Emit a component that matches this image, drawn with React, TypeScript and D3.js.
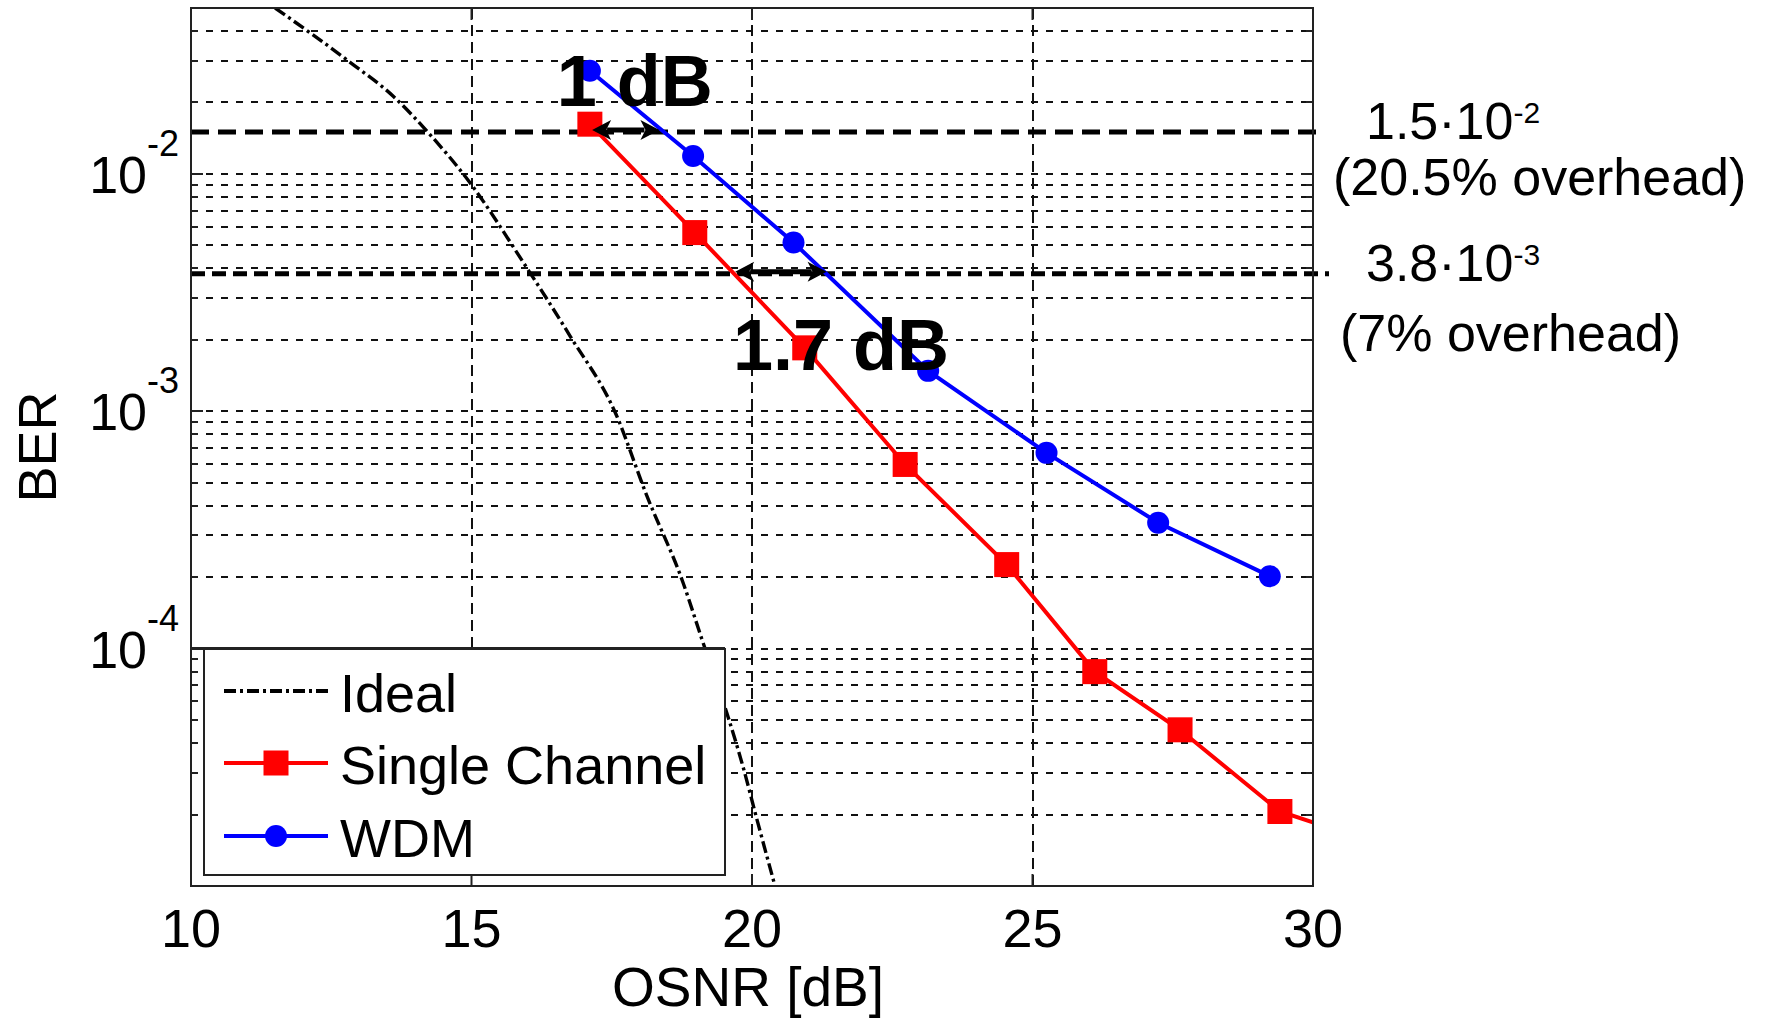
import React, { useMemo } from "react";
import * as d3 from "d3";

const WIDTH = 1769;
const HEIGHT = 1019;
const PLOT = { left: 191, right: 1313, top: 8, bottom: 886 };
const FONT = "'Liberation Sans', Arial, sans-serif";

// axes
const OSNR_DOMAIN = [10, 30];
const BER_DOMAIN = [1e-5, 5e-2];
const OSNR_TICKS = [10, 15, 20, 25, 30];
const BER_DECADES = [-2, -3, -4];

// theory curve
const IDEAL_OSNR = [11.5, 12.83, 13.6, 14.21, 14.97, 15.92, 16.76, 17.56, 18.13, 18.77, 19.11, 19.55, 19.84, 20.09, 20.41];
const IDEAL_BER = [5.0e-2, 2.96e-2, 2.13e-2, 1.51e-2, 9.2e-3, 4.25e-3, 2.07e-3, 9.9e-4, 4.38e-4, 1.9e-4, 1.09e-4, 5.37e-5, 3.18e-5, 1.9e-5, 1.0e-5];

// measurements
const SINGLE_OSNR = [17.11, 18.98, 20.94, 22.73, 24.54, 26.11, 27.63, 29.41, 31.0];
const SINGLE_BER = [1.62e-2, 5.66e-3, 1.85e-3, 5.97e-4, 2.26e-4, 8.0e-5, 4.55e-5, 2.06e-5, 1.55e-5];
const WDM_OSNR = [17.11, 18.95, 20.74, 23.14, 25.25, 27.24, 29.23];
const WDM_BER = [2.72e-2, 1.19e-2, 5.14e-3, 1.48e-3, 6.68e-4, 3.39e-4, 2.02e-4];

// FEC thresholds and penalty arrows
const THRESHOLD_BER = [1.5e-2, 3.8e-3];
const THRESHOLD_MANTISSA = ["1.5", "3.8"];
const THRESHOLD_EXPONENT = ["-2", "-3"];
const THRESHOLD_OVERHEAD = ["(20.5% overhead)", "(7% overhead)"];
const GAP_FROM = [17.15, 19.7];
const GAP_TO = [18.35, 21.33];
const GAP_LABELS = ["1 dB", "1.7 dB"];
const GAP_LABEL_OSNR = [16.52, 19.66];
const GAP_LABEL_BER = [1.93e-2, 1.49e-3];

const LEGEND_LABELS = ["Ideal", "Single Channel", "WDM"];

function DoubleArrow({ x1, x2, y }: { x1: number; x2: number; y: number }) {
  const hl = 19;
  const hw = 10;
  return (
    <g fill="#000" stroke="none">
      <line x1={x1 + hl - 4} x2={x2 - hl + 4} y1={y} y2={y} stroke="#000" strokeWidth={5} />
      <path d={`M${x1},${y} L${x1 + hl},${y - hw} L${x1 + hl - 5},${y} L${x1 + hl},${y + hw} Z`} />
      <path d={`M${x2},${y} L${x2 - hl},${y - hw} L${x2 - hl + 5},${y} L${x2 - hl},${y + hw} Z`} />
    </g>
  );
}

export default function App() {
  const x = useMemo(() => d3.scaleLinear().domain(OSNR_DOMAIN).range([PLOT.left, PLOT.right]), []);
  const y = useMemo(() => d3.scaleLog().domain(BER_DOMAIN).range([PLOT.bottom, PLOT.top]), []);

  const gridValues = useMemo(() => {
    const out: { v: number; major: boolean }[] = [];
    for (let d = -5; d <= -2; d++) {
      for (let k = 1; k <= 9; k++) {
        const v = k * Math.pow(10, d);
        if (v > BER_DOMAIN[0] * 1.001 && v < BER_DOMAIN[1] * 0.999) out.push({ v, major: k === 1 });
      }
    }
    return out;
  }, []);

  const smooth = d3
    .line<[number, number]>()
    .x((d) => x(d[0]))
    .y((d) => y(d[1]))
    .curve(d3.curveMonotoneX);
  const linear = d3
    .line<[number, number]>()
    .x((d) => x(d[0]))
    .y((d) => y(d[1]));
  const idealPath = smooth(IDEAL_OSNR.map((o, i) => [o, IDEAL_BER[i]]));
  const singlePath = linear(SINGLE_OSNR.map((o, i) => [o, SINGLE_BER[i]]));
  const wdmPath = linear(WDM_OSNR.map((o, i) => [o, WDM_BER[i]]));

  const gy = (v: number) => Math.round(y(v));
  const legendRows = [691, 763, 836];
  const legend = { x0: 204, x1: 725, y0: 649, y1: 875 };

  return (
    <svg width={WIDTH} height={HEIGHT} style={{ position: "absolute", left: 0, top: 0, background: "#fff" }} fontFamily={FONT}>
      <defs>
        <clipPath id="plotClip">
          <rect x={PLOT.left} y={PLOT.top} width={PLOT.right - PLOT.left} height={PLOT.bottom - PLOT.top} />
        </clipPath>
      </defs>
      <rect x={0} y={0} width={WIDTH} height={HEIGHT} fill="#fff" />

      {/* grid */}
      <g stroke="#111" strokeWidth={2} fill="none">
        {gridValues.map((m) => (
          <line key={m.v} x1={PLOT.left} x2={PLOT.right} y1={gy(m.v)} y2={gy(m.v)} strokeDasharray="7 8" />
        ))}
        {OSNR_TICKS.slice(1, -1).map((t) => (
          <line key={t} x1={Math.round(x(t))} x2={Math.round(x(t))} y1={PLOT.top} y2={PLOT.bottom} strokeDasharray="11 6" />
        ))}
      </g>

      {/* thresholds */}
      {THRESHOLD_BER.map((b, i) => (
        <line
          key={b}
          x1={PLOT.left}
          x2={PLOT.right + 8 + i * 8}
          y1={y(b)}
          y2={y(b)}
          stroke="#000"
          strokeWidth={5}
          strokeDasharray={i === 0 ? "18 9" : "14 7"}
        />
      ))}

      {/* curves */}
      <g clipPath="url(#plotClip)">
        <path d={idealPath || ""} fill="none" stroke="#000" strokeWidth={3.4} strokeDasharray="12 4 3 4" />
        <path d={singlePath || ""} fill="none" stroke="#ff0000" strokeWidth={4} />
        <path d={wdmPath || ""} fill="none" stroke="#0000ff" strokeWidth={4} />
        {SINGLE_OSNR.map((o, i) => (
          <rect key={o} x={x(o) - 12.5} y={y(SINGLE_BER[i]) - 12.5} width={25} height={25} fill="#ff0000" />
        ))}
        {WDM_OSNR.map((o, i) => (
          <circle key={o} cx={x(o)} cy={y(WDM_BER[i])} r={11} fill="#0000ff" />
        ))}
      </g>

      {/* penalty arrows */}
      {GAP_FROM.map((g, i) => (
        <DoubleArrow key={g} x1={x(g)} x2={x(GAP_TO[i])} y={y(THRESHOLD_BER[i]) - 2} />
      ))}
      {GAP_LABELS.map((t, i) => (
        <text key={t} x={x(GAP_LABEL_OSNR[i])} y={y(GAP_LABEL_BER[i])} fontSize={72} fontWeight="bold" fill="#000">
          {t}
        </text>
      ))}

      {/* legend */}
      <rect x={PLOT.left} y={legend.y0 - 1} width={legend.x1 - PLOT.left} height={PLOT.bottom - legend.y0} fill="#fff" />
      <line x1={PLOT.left} x2={legend.x1} y1={legend.y0 - 1} y2={legend.y0 - 1} stroke="#222" strokeWidth={2} />
      <rect x={legend.x0} y={legend.y0} width={legend.x1 - legend.x0} height={legend.y1 - legend.y0} fill="#fff" stroke="#222" strokeWidth={2} />
      <line x1={224} x2={328} y1={legendRows[0]} y2={legendRows[0]} stroke="#000" strokeWidth={4} strokeDasharray="12 4 3 4" />
      <line x1={224} x2={328} y1={legendRows[1]} y2={legendRows[1]} stroke="#ff0000" strokeWidth={4} />
      <rect x={276 - 12.5} y={legendRows[1] - 12.5} width={25} height={25} fill="#ff0000" />
      <line x1={224} x2={328} y1={legendRows[2]} y2={legendRows[2]} stroke="#0000ff" strokeWidth={4} />
      <circle cx={276} cy={legendRows[2]} r={11} fill="#0000ff" />
      {LEGEND_LABELS.map((l, i) => (
        <text key={l} x={340} y={legendRows[i] + 21} fontSize={54} fill="#000">
          {l}
        </text>
      ))}

      {/* frame and ticks */}
      <rect x={PLOT.left} y={PLOT.top} width={PLOT.right - PLOT.left} height={PLOT.bottom - PLOT.top} fill="none" stroke="#222" strokeWidth={2} />
      <g stroke="#222" strokeWidth={2}>
        {gridValues.map((m) => {
          const len = m.major ? 12 : 7;
          return (
            <g key={m.v}>
              <line x1={PLOT.left} x2={PLOT.left + len} y1={gy(m.v)} y2={gy(m.v)} />
              <line x1={PLOT.right} x2={PLOT.right - len} y1={gy(m.v)} y2={gy(m.v)} />
            </g>
          );
        })}
        {OSNR_TICKS.slice(1, -1).map((t) => (
          <g key={t}>
            <line x1={x(t)} x2={x(t)} y1={PLOT.bottom} y2={PLOT.bottom - 12} />
            <line x1={x(t)} x2={x(t)} y1={PLOT.top} y2={PLOT.top + 12} />
          </g>
        ))}
      </g>

      {/* tick labels */}
      {OSNR_TICKS.map((t) => (
        <text key={t} x={x(t)} y={947} textAnchor="middle" fontSize={54} fill="#000">
          {t}
        </text>
      ))}
      {BER_DECADES.map((d) => (
        <text key={d} x={179} y={y(Math.pow(10, d)) + 19} textAnchor="end" fontSize={52} fill="#000">
          <tspan>10</tspan>
          <tspan fontSize={36} dy={-37}>
            {String(d)}
          </tspan>
        </text>
      ))}

      {/* axis titles */}
      <text x={748} y={1006} textAnchor="middle" fontSize={55} fill="#000">
        OSNR [dB]
      </text>
      <text transform={`translate(56,${(PLOT.top + PLOT.bottom) / 2}) rotate(-90)`} textAnchor="middle" fontSize={54} fill="#000">
        BER
      </text>

      {/* threshold labels */}
      {THRESHOLD_BER.map((b, i) => (
        <g key={b}>
          <text x={PLOT.right + 53} y={y(b) + 7} fontSize={52} fill="#000">
            <tspan>{THRESHOLD_MANTISSA[i]}·10</tspan>
            <tspan fontSize={30} dy={-16}>
              {THRESHOLD_EXPONENT[i]}
            </tspan>
          </text>
          <text x={PLOT.right + (i === 0 ? 20 : 27)} y={y(b) + (i === 0 ? 63 : 77)} fontSize={52} fill="#000">
            {THRESHOLD_OVERHEAD[i]}
          </text>
        </g>
      ))}
    </svg>
  );
}
